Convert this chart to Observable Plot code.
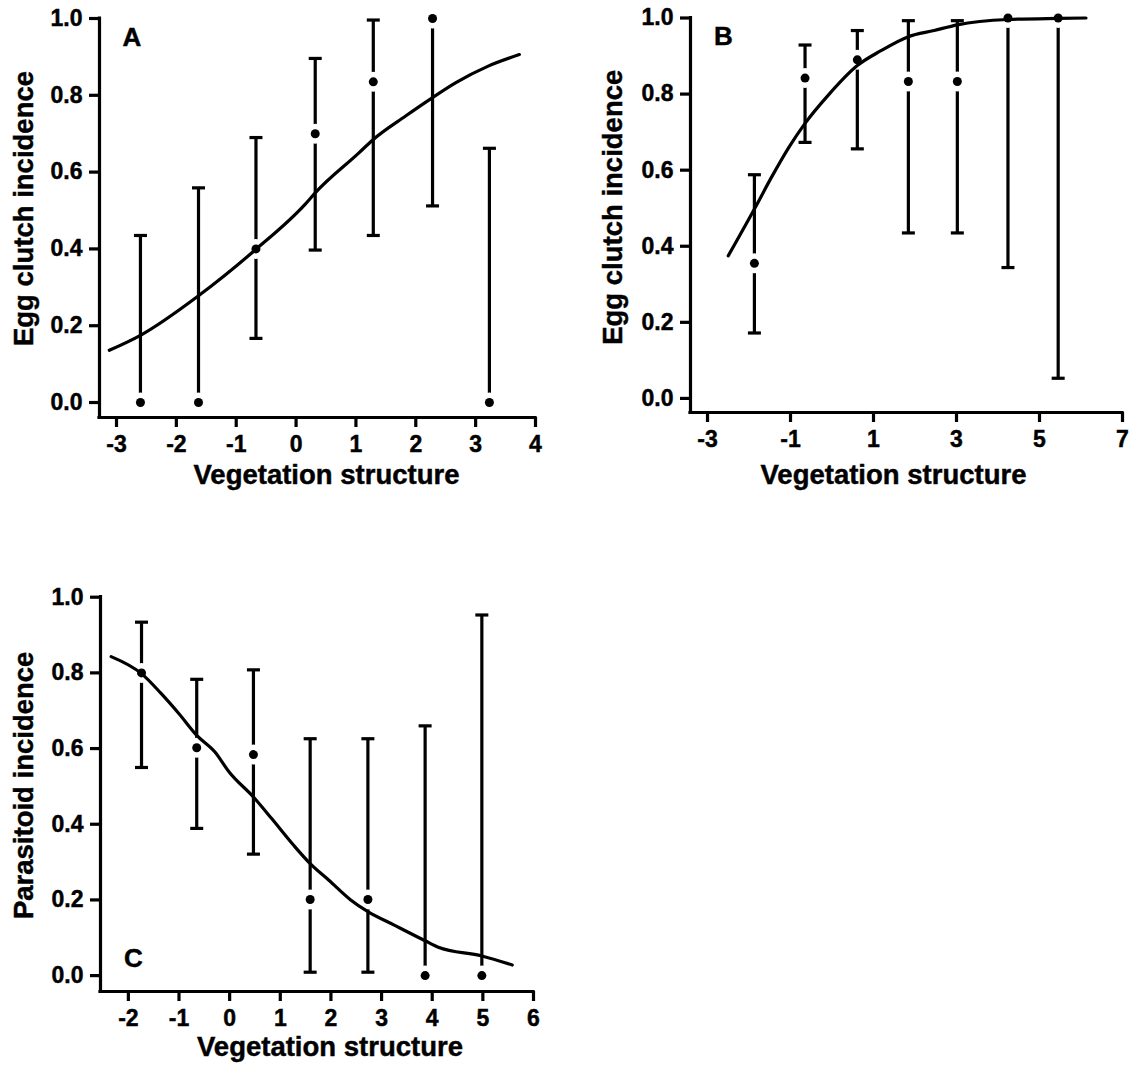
<!DOCTYPE html>
<html><head><meta charset="utf-8">
<script src="https://cdn.jsdelivr.net/npm/d3@7"></script>
<script src="https://cdn.jsdelivr.net/npm/@observablehq/plot@0.6"></script>
<style>
body{margin:0;background:#fff;}
#wrap{position:relative;width:1133px;height:1068px;background:#fff;}
#wrap svg{position:absolute;}
#wrap svg text{stroke:#000;stroke-width:0.45px;paint-order:stroke;}
</style></head><body><div id="wrap"></div>
<script>
const FONT = "'Liberation Sans', Arial, Helvetica, sans-serif";

// ---- Panel A: egg clutch incidence vs vegetation structure
const aX  = [-2.60, -1.63, -0.67, 0.32, 1.29, 2.28, 3.23];
const aY  = [0, 0, 0.40, 0.70, 0.835, 1.0, 0];
const aLo = [0, 0, 0.167, 0.397, 0.435, 0.512, 0];
const aHi = [0.435, 0.559, 0.69, 0.896, 0.996, 1.0, 0.662];
const aCurveX = [-3.12, -2.60, -1.63, -0.67, 0.15, 0.32, 1.05, 1.29, 1.83, 2.28, 2.67, 3.21, 3.73];
const aCurveY = [0.136, 0.175, 0.278, 0.399, 0.516, 0.546, 0.650, 0.685, 0.746, 0.794, 0.833, 0.876, 0.906];
const aXTicks = [-3, -2, -1, 0, 1, 2, 3, 4];

// ---- Panel B
const bX  = [-1.87, -0.65, 0.61, 1.84, 3.02, 4.24, 5.45];
const bY  = [0.355, 0.842, 0.890, 0.833, 0.833, 1.0, 1.0];
const bLo = [0.172, 0.673, 0.656, 0.435, 0.435, 0.344, 0.053];
const bHi = [0.588, 0.929, 0.967, 0.993, 0.993, 1.0, 1.0];
const bCurveX = [-2.50, -1.87, -1.46, -1.04, -0.65, -0.10, 0.61, 1.18, 1.84, 2.46, 3.02, 4.24, 5.45, 6.12];
const bCurveY = [0.375, 0.498, 0.581, 0.660, 0.723, 0.796, 0.875, 0.914, 0.951, 0.967, 0.982, 0.996, 0.999, 1.0];
const bXTicks = [-3, -1, 1, 3, 5, 7];

// ---- Panel C: parasitoid incidence
const cX  = [-1.74, -0.65, 0.47, 1.59, 2.73, 3.86, 4.98];
const cY  = [0.800, 0.602, 0.584, 0.201, 0.201, 0, 0];
const cLo = [0.550, 0.389, 0.321, 0.009, 0.009, 0, 0];
const cHi = [0.934, 0.783, 0.808, 0.626, 0.626, 0.660, 0.953];
const cCurveX = [-2.34, -1.74, -1.35, -1.0, -0.65, -0.29, -0.01, 0.47, 0.83, 1.26, 1.59, 1.96, 2.39, 2.73, 3.24, 3.86, 4.12, 4.98, 5.58];
const cCurveY = [0.843, 0.798, 0.745, 0.692, 0.635, 0.591, 0.538, 0.472, 0.415, 0.345, 0.296, 0.252, 0.200, 0.169, 0.134, 0.092, 0.075, 0.052, 0.028];
const cXTicks = [-2, -1, 0, 1, 2, 3, 4, 5, 6];

const yTicks = [0, 0.2, 0.4, 0.6, 0.8, 1.0];

const capSymbol = {
  draw(ctx, size) {
    const w = Math.sqrt(size / Math.PI);
    ctx.moveTo(-w, 0);
    ctx.lineTo(w, 0);
  }
};

const SW = 3.2;

function panel(o) {
  const pts = o.x.map((x, i) => ({x, y: o.y[i], lo: o.lo[i], hi: o.hi[i]}));
  const caps = [];
  pts.forEach(p => {
    if (p.lo < p.y) caps.push({x: p.x, y: p.lo});
    if (p.hi > p.y) caps.push({x: p.x, y: p.hi});
  });
  const curve = o.cx.map((x, i) => ({x, y: o.cy[i]}));
  const svg = Plot.plot({
    width: o.width, height: o.height,
    marginLeft: o.ml, marginRight: o.mr, marginTop: o.mt, marginBottom: o.mb,
    style: {fontFamily: FONT, background: "transparent", overflow: "visible", color: "black"},
    x: {domain: o.xDomain},
    y: {domain: o.yDomain},
    marks: [
      Plot.ruleX(pts, {x: "x", y1: "lo", y2: "hi", stroke: "black", strokeWidth: SW}),
      Plot.dot(caps, {x: "x", y: "y", symbol: capSymbol, r: 6.5, fill: "none", stroke: "black", strokeWidth: SW}),
      Plot.dot(pts, {x: "x", y: "y", r: 10, fill: "white", stroke: "none"}),
      Plot.dot(pts, {x: "x", y: "y", r: 4.5, fill: "black", stroke: "none"}),
      Plot.line(curve, {x: "x", y: "y", curve: "monotone-x", stroke: "black", strokeWidth: SW}),
      Plot.ruleY([o.yDomain[0]], {x1: o.xDomain[0], x2: o.xDomain[1], stroke: "black", strokeWidth: SW, strokeLinecap: "square"}),
      Plot.ruleX([o.xDomain[0]], {y1: o.yDomain[0], y2: 1, stroke: "black", strokeWidth: SW, strokeLinecap: "square"}),
      Plot.axisX({ticks: o.xTicks, anchor: "bottom", tickSize: 10, tickPadding: 8, tickFormat: d => String(d),
        fontSize: 23, fontWeight: "bold", strokeWidth: SW, label: null}),
      Plot.axisY({ticks: yTicks, anchor: "left", tickSize: 10, tickPadding: 7, tickFormat: d => d.toFixed(1),
        fontSize: 23, fontWeight: "bold", strokeWidth: SW, label: null}),
      Plot.text([o.xLabel], {text: d => d, frameAnchor: "bottom", textAnchor: "middle", lineAnchor: "middle",
        dx: o.xlDx, dy: o.xlDy, fontSize: 27.5, fontWeight: "bold"}),
      Plot.text([o.yLabel], {text: d => d, frameAnchor: "left", textAnchor: "middle", lineAnchor: "middle", rotate: -90,
        dx: o.ylDx, dy: o.ylDy, fontSize: 27.5, fontWeight: "bold"}),
      Plot.text([o.letter], {text: d => d, frameAnchor: o.letterAnchor, textAnchor: "middle", lineAnchor: "middle",
        dx: o.lDx, dy: o.lDy, fontSize: 26, fontWeight: "bold"})
    ]
  });
  svg.style.left = o.left + "px";
  svg.style.top = o.top + "px";
  document.getElementById("wrap").appendChild(svg);
}

panel({x: aX, y: aY, lo: aLo, hi: aHi, cx: aCurveX, cy: aCurveY, xTicks: aXTicks,
  left: 0, top: 0, width: 566, height: 500, ml: 99, mr: 31, mt: 18, mb: 83,
  xDomain: [-3.284, 4], yDomain: [-0.039, 1],
  xLabel: "Vegetation structure", xlDx: 9, xlDy: 58,
  yLabel: "Egg clutch incidence", ylDx: -75, ylDy: -9.5,
  letter: "A", letterAnchor: "top-left", lDx: 32.5, lDy: 19.5});

panel({x: bX, y: bY, lo: bLo, hi: bHi, cx: bCurveX, cy: bCurveY, xTicks: bXTicks,
  left: 566, top: 0, width: 567, height: 500, ml: 124, mr: 11, mt: 17.5, mb: 88,
  xDomain: [-3.41, 7], yDomain: [-0.037, 1],
  xLabel: "Vegetation structure", xlDx: -13, xlDy: 63,
  yLabel: "Egg clutch incidence", ylDx: -77, ylDy: -8,
  letter: "B", letterAnchor: "top-left", lDx: 33, lDy: 18.5});

panel({x: cX, y: cY, lo: cLo, hi: cHi, cx: cCurveX, cy: cCurveY, xTicks: cXTicks,
  left: 0, top: 560, width: 566, height: 508, ml: 100, mr: 33, mt: 36.7, mb: 77,
  xDomain: [-2.55, 6], yDomain: [-0.042, 1],
  xLabel: "Vegetation structure", xlDx: 13, xlDy: 56,
  yLabel: "Parasitoid incidence", ylDx: -76, ylDy: -9,
  letter: "C", letterAnchor: "bottom-left", lDx: 33, lDy: -33});
</script>
</body></html>
